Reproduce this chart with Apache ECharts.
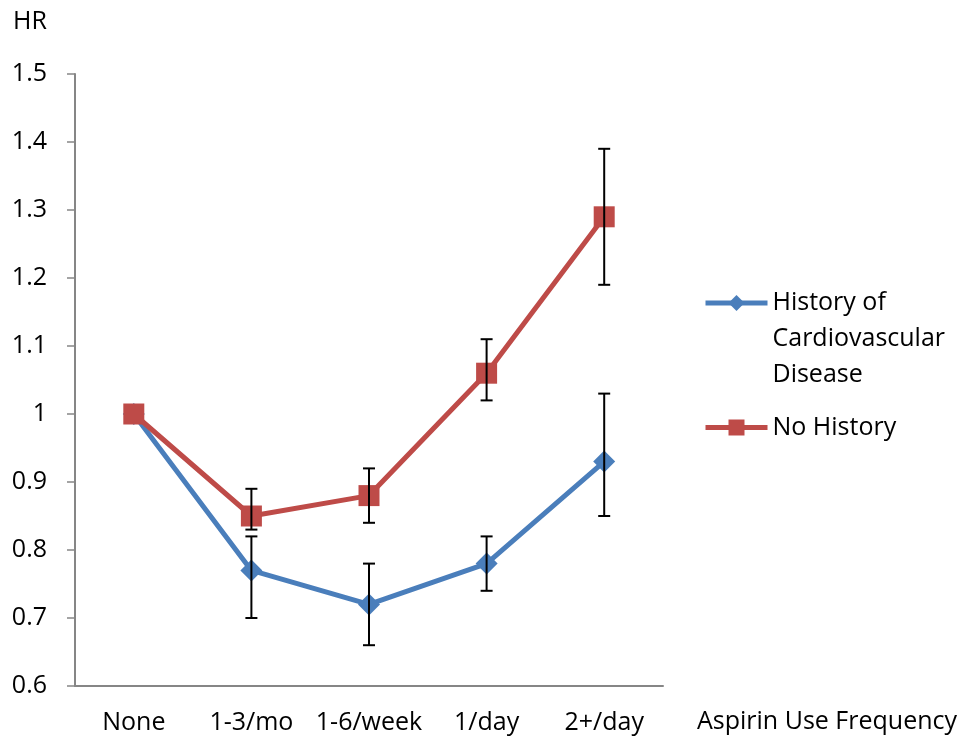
<!DOCTYPE html>
<html>
<head>
<meta charset="utf-8">
<script src="https://cdn.jsdelivr.net/npm/echarts@6/dist/echarts.min.js"></script>
<style>
  html, body { margin: 0; padding: 0; background: #fff; }
  #chart { width: 971px; height: 739px; }
</style>
</head>
<body>
<div id="chart"></div>
<script>
var categories = ['None', '1-3/mo', '1-6/week', '1/day', '2+/day'];
var yTicks = [0.6, 0.7, 0.8, 0.9, 1.0, 1.1, 1.2, 1.3, 1.4, 1.5];

var cvdHR = [1.0, 0.77, 0.72, 0.78, 0.93];
var cvdLow = [null, 0.70, 0.66, 0.74, 0.85];
var cvdHigh = [null, 0.82, 0.78, 0.82, 1.03];

var noHistHR = [1.0, 0.85, 0.88, 1.06, 1.29];
var noHistLow = [null, 0.83, 0.84, 1.02, 1.19];
var noHistHigh = [null, 0.89, 0.92, 1.11, 1.39];

var FONT = 'Open Sans';
var FS = 25;
var BLUE = '#4A7EBB';
var RED = '#BE4B48';
var CVD_NAME = 'History of\nCardiovascular\nDisease';

function errData(low, high) {
    var out = [];
    for (var i = 0; i < categories.length; i++) {
        if (low[i] != null) out.push([i, low[i], high[i]]);
    }
    return out;
}

function renderErr(params, api) {
    var lo = api.coord([api.value(0), api.value(1)]);
    var hi = api.coord([api.value(0), api.value(2)]);
    var w = 6;
    var st = { stroke: '#000', lineWidth: 2 };
    return {
        type: 'group',
        children: [
            { type: 'line', shape: { x1: lo[0], y1: lo[1], x2: hi[0], y2: hi[1] }, style: st },
            { type: 'line', shape: { x1: lo[0] - w, y1: lo[1], x2: lo[0] + w, y2: lo[1] }, style: st },
            { type: 'line', shape: { x1: hi[0] - w, y1: hi[1], x2: hi[0] + w, y2: hi[1] }, style: st }
        ]
    };
}

var chart = echarts.init(document.getElementById('chart'));
chart.setOption({
    animation: false,
    backgroundColor: '#fff',
    textStyle: { fontFamily: FONT },
    grid: { left: 75, right: 308, top: 74, bottom: 53, outerBoundsMode: 'none', containLabel: false },
    legend: [
        {
            orient: 'vertical',
            left: 698,
            top: 208,
            itemWidth: 62,
            itemHeight: 20,
            data: [{ name: CVD_NAME, lineStyle: { width: 5 } }],
            // two blank lines on top so the icon sits beside the first line
            formatter: function (name) { return '\n\n' + name; },
            textStyle: { fontFamily: FONT, fontSize: FS, color: '#000', lineHeight: 36 }
        },
        {
            orient: 'vertical',
            left: 698,
            top: 410,
            itemWidth: 62,
            itemHeight: 20,
            data: [{ name: 'No History', lineStyle: { width: 5 } }],
            textStyle: { fontFamily: FONT, fontSize: FS, color: '#000' }
        }
    ],
    xAxis: {
        type: 'category',
        data: categories,
        boundaryGap: true,
        name: '\nAspirin Use Frequency',
        nameLocation: 'end',
        nameGap: 34,
        nameTextStyle: { fontFamily: FONT, fontSize: FS, color: '#000', align: 'left', lineHeight: 72 },
        axisLine: { lineStyle: { color: '#868686', width: 2 } },
        axisTick: { inside: true, length: 8, lineStyle: { color: '#868686', width: 1.5 } },
        axisLabel: { interval: 0, fontFamily: FONT, fontSize: FS, color: '#000', margin: 24 }
    },
    yAxis: {
        type: 'value',
        min: yTicks[0],
        max: yTicks[yTicks.length - 1],
        interval: 0.1,
        name: 'HR',
        nameLocation: 'end',
        nameGap: 40,
        nameTextStyle: { fontFamily: FONT, fontSize: FS, color: '#000', align: 'center', padding: [0, 90, 0, 0] },
        splitLine: { show: false },
        axisLine: { show: true, lineStyle: { color: '#868686', width: 2 } },
        axisTick: { show: true, inside: false, length: 8, lineStyle: { color: '#868686', width: 1.5 } },
        axisLabel: {
            fontFamily: FONT, fontSize: FS, color: '#000', margin: 28,
            formatter: function (v) { return String(Math.round(v * 10) / 10); }
        }
    },
    series: [
        {
            name: CVD_NAME,
            type: 'line',
            data: cvdHR,
            symbol: 'diamond',
            symbolSize: 22,
            lineStyle: { color: BLUE, width: 5 },
            itemStyle: { color: BLUE },
            z: 2
        },
        {
            name: 'No History',
            type: 'line',
            data: noHistHR,
            symbol: 'rect',
            symbolSize: 21,
            lineStyle: { color: RED, width: 5 },
            itemStyle: { color: RED },
            z: 3
        },
        {
            type: 'custom',
            data: errData(cvdLow, cvdHigh),
            renderItem: renderErr,
            z: 5
        },
        {
            type: 'custom',
            data: errData(noHistLow, noHistHigh),
            renderItem: renderErr,
            z: 5
        }
    ]
});
</script>
</body>
</html>
